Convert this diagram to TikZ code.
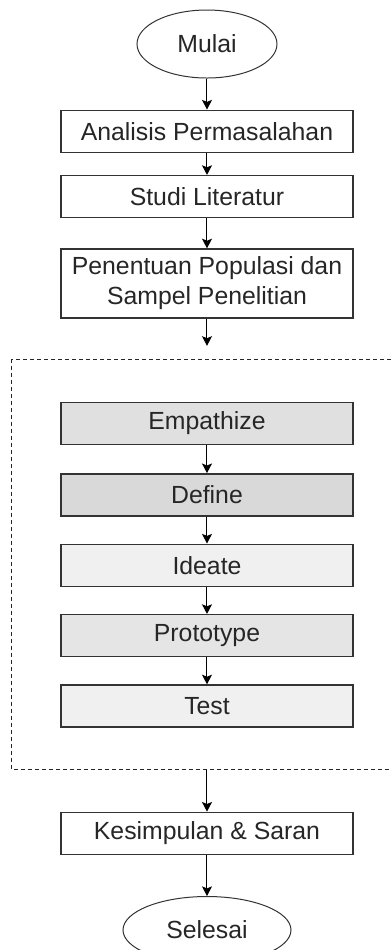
\documentclass[tikz,border=0pt]{standalone}
\usepackage{fontspec}
\setmainfont{Liberation Sans}
\usepackage{tikz}
\usetikzlibrary{shapes.geometric, arrows.meta, positioning, fit}

\begin{document}
\begin{tikzpicture}[
    term/.style={ellipse, draw=black!80, minimum width=70pt, minimum height=34pt, inner sep=0pt, line width=0.5pt},
    proc/.style={rectangle, draw=black!80, minimum width=146pt, minimum height=21pt, inner sep=0pt, align=center, line width=0.7pt},
    phase/.style={proc, fill=#1},
    frame/.style={draw=black!85, dash pattern=on 2pt off 1.5pt, line width=0.45pt},
    arrow/.style={-{Stealth[length=4.8pt, width=5pt, inset=1pt]}, line width=0.5pt},
    every node/.append style={font=\fontsize{12.4}{15}\selectfont, text=black!85}
]
    \useasboundingbox (-103.5pt,22pt) rectangle (92pt,-453pt);
    \coordinate (tepi) at (92pt,0);

    \node[term] (mulai) {Mulai};
    \node[proc, below=15.5pt of mulai] (analisis) {Analisis Permasalahan};
    \node[proc, below=11pt of analisis] (studi) {Studi Literatur};
    \node[proc, below=15pt of studi, minimum height=34.5pt] (populasi) {Penentuan Populasi dan\\Sampel Penelitian};

    % tahapan design thinking
    \node[phase=black!12, below=41.5pt of populasi] (empathize) {Empathize};
    \node[phase=black!15, below=14pt of empathize] (define) {Define};
    \node[phase=black!6, below=13.5pt of define] (ideate) {Ideate};
    \node[phase=black!10, below=13.5pt of ideate] (prototype) {Prototype};
    \node[phase=black!6, below=13.5pt of prototype] (test) {Test};
    \node[fit=(empathize)(test), inner xsep=24pt, inner ysep=20.75pt] (dt) {};
    % bingkai terpotong di sisi kanan
    \draw[frame] (dt.north -| tepi) -- (dt.north west) -- (dt.south west) -- (dt.south -| tepi);

    \node[proc, below=21pt of dt] (simpulan) {Kesimpulan \& Saran};
    \node[term, below=20.5pt of simpulan, minimum width=84pt, minimum height=33.5pt] (selesai) {Selesai};

    \path (dt.north) ++(0,7pt) coordinate (masuk);

    \draw[arrow] (mulai) -- (analisis);
    \draw[arrow] (analisis) -- (studi);
    \draw[arrow] (studi) -- (populasi);
    \draw[arrow] (populasi) -- (masuk);

    \draw[arrow] (empathize) -- (define);
    \draw[arrow] (define) -- (ideate);
    \draw[arrow] (ideate) -- (prototype);
    \draw[arrow] (prototype) -- (test);

    \draw[arrow] (dt.south) -- (simpulan);
    \draw[arrow] (simpulan) -- (selesai);

\end{tikzpicture}
\end{document}
